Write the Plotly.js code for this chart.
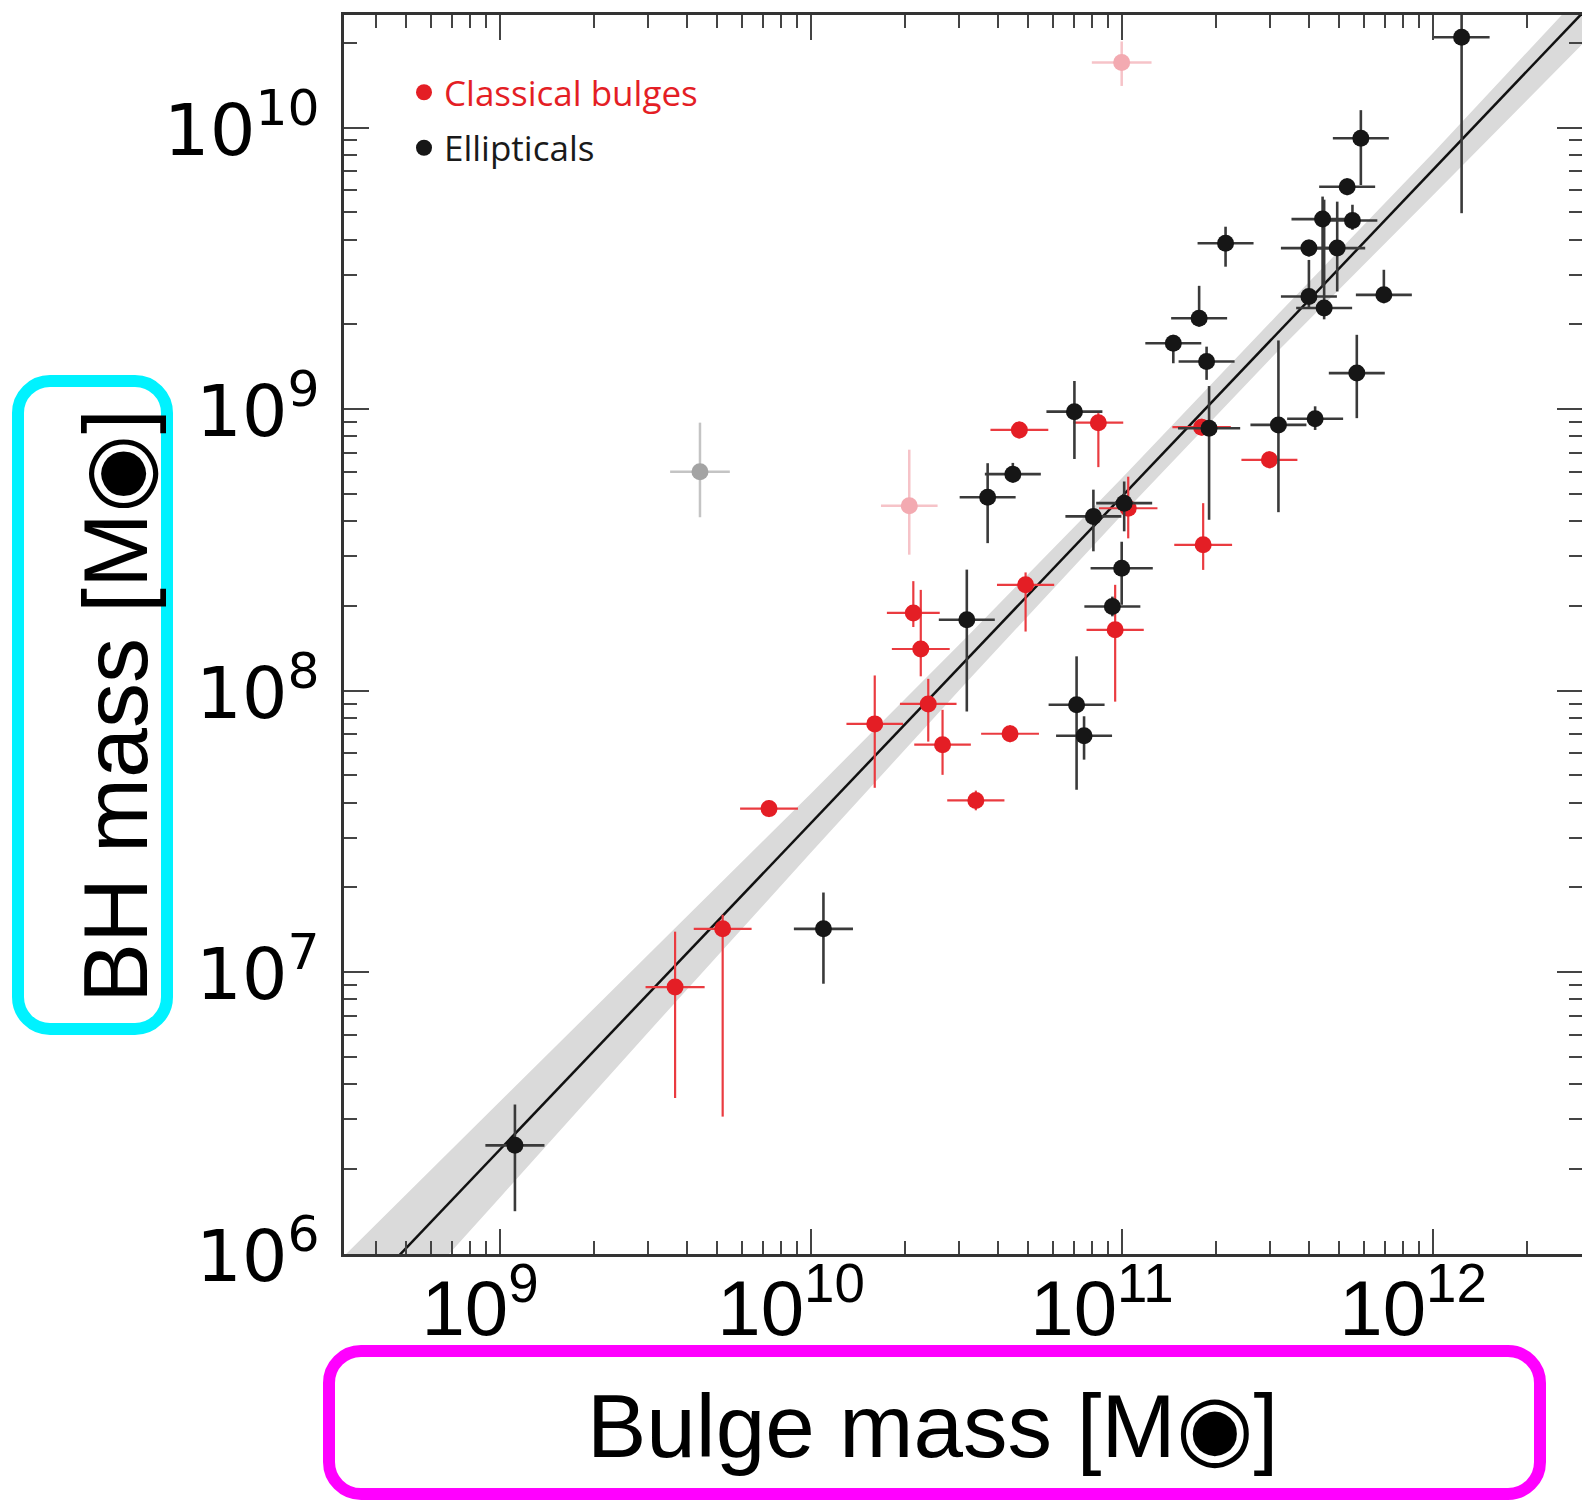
<!DOCTYPE html>
<html><head><meta charset="utf-8">
<script src="https://cdn.plot.ly/plotly-3.0.1.min.js"></script>
<style>html,body{margin:0;padding:0;background:#fff;overflow:hidden}#chart{width:1582px;height:1503px}</style>
</head><body><div id="chart"></div>
<script>
// ---------- data (log10 values) ----------
// Ellipticals
const ellLogMbul = [12.092, 11.768, 11.724, 11.645, 11.741, 11.333, 11.601, 11.692, 11.601, 11.650, 11.842, 11.248, 11.165, 11.272, 11.755, 10.847, 11.280, 11.503, 11.621, 10.649, 10.568, 10.908, 11.007, 10.999, 10.969, 10.501, 10.854, 10.878, 10.040, 9.048];
const ellLogMbh  = [10.321, 9.962, 9.790, 9.675, 9.670, 9.589, 9.572, 9.572, 9.400, 9.359, 9.406, 9.323, 9.234, 9.169, 9.128, 8.991, 8.932, 8.944, 8.966, 8.769, 8.687, 8.619, 8.666, 8.435, 8.299, 8.252, 7.950, 7.840, 7.154, 6.385];
const ellErrX    = [0.09, 0.09, 0.09, 0.10, 0.08, 0.09, 0.09, 0.09, 0.09, 0.09, 0.09, 0.09, 0.09, 0.09, 0.09, 0.09, 0.10, 0.09, 0.09, 0.09, 0.09, 0.09, 0.09, 0.10, 0.09, 0.09, 0.09, 0.09, 0.095, 0.095];
const ellErrYUp  = [0.10, 0.10, 0.03, 0.08, 0.056, 0.059, 0.03, 0.165, 0.13, 0.385, 0.089, 0.115, 0.03, 0.053, 0.136, 0.109, 0.15, 0.30, 0.044, 0.04, 0.121, 0.095, 0.077, 0.094, 0.035, 0.178, 0.172, 0.069, 0.129, 0.145];
const ellErrYDn  = [0.625, 0.166, 0.03, 0.24, 0.033, 0.083, 0.03, 0.154, 0.04, 0.04, 0.03, 0.03, 0.071, 0.065, 0.16, 0.168, 0.325, 0.31, 0.04, 0.03, 0.163, 0.124, 0.10, 0.13, 0.035, 0.326, 0.302, 0.085, 0.195, 0.234];

// Classical bulges
const clsLogMbul = [10.670, 10.924, 11.256, 11.474, 11.261, 11.020, 10.690, 10.329, 10.353, 10.978, 10.377, 10.423, 10.640, 10.530, 10.205, 9.865, 9.716, 9.563];
const clsLogMbh  = [8.926, 8.952, 8.936, 8.820, 8.518, 8.648, 8.376, 8.276, 8.148, 8.216, 7.953, 7.808, 7.847, 7.610, 7.882, 7.581, 7.154, 6.947];
const clsErrX    = [0.093, 0.08, 0.094, 0.09, 0.093, 0.094, 0.092, 0.085, 0.093, 0.092, 0.091, 0.091, 0.093, 0.092, 0.091, 0.093, 0.093, 0.095];
const clsErrYUp  = [0.03, 0.034, 0.03, 0.03, 0.148, 0.112, 0.044, 0.113, 0.21, 0.16, 0.089, 0.124, 0.03, 0.035, 0.172, 0.03, 0.05, 0.197];
const clsErrYDn  = [0.03, 0.158, 0.03, 0.03, 0.089, 0.107, 0.166, 0.05, 0.097, 0.255, 0.134, 0.107, 0.03, 0.035, 0.227, 0.03, 0.667, 0.394];

// Omitted classical bulges (pale red) and outlier (grey)
const omitLogMbul = [10.999, 10.316];
const omitLogMbh  = [10.231, 8.657];
const omitErrX    = [0.096, 0.091];
const omitErrYUp  = [0.075, 0.199];
const omitErrYDn  = [0.083, 0.174];
const grayLogMbul = [9.643];
const grayLogMbh  = [8.778];
const grayErrX    = [0.096];
const grayErrYUp  = [0.174];
const grayErrYDn  = [0.162];

// Fit line and its confidence band (log10)
const fitLogX  = [8.4, 12.6];
const fitLogY  = [5.674, 10.546];
const bandLogX = [8.4, 9.0, 9.5, 10.0, 10.5, 11.0, 11.5, 12.0, 12.6];
const bandHiY  = [5.884, 6.54, 7.085, 7.635, 8.19, 8.755, 9.335, 9.91, 10.62];
const bandLoY  = [5.464, 6.20, 6.815, 7.425, 8.03, 8.625, 9.205, 9.76, 10.43];

// Axis ticks
const xTickVals = [1e9, 1e10, 1e11, 1e12];
const xTickText = ['10<sup>9</sup>', '10<sup>10</sup>', '10<sup>11</sup>', '10<sup>12</sup>'];
const yTickVals = [1e6, 1e7, 1e8, 1e9, 1e10];
const yTickText = ['10<sup>6</sup>', '10<sup>7</sup>', '10<sup>8</sup>', '10<sup>9</sup>', '10<sup>10</sup>'];

// Titles / legend labels
const xTitle = 'Bulge mass [M◉]';
const yTitle = 'BH mass [M◉]';
const nameCls = 'Classical bulges';
const nameEll = 'Ellipticals';

// ---------- helpers ----------
const p10 = v => Math.pow(10, v);
function errs(logV, up, dn) {
  return {
    plus: logV.map((v, i) => p10(v) * (p10(up[i]) - 1)),
    minus: logV.map((v, i) => p10(v) * (1 - p10(-dn[i])))
  };
}
function ptsTrace(lx, ly, ex, eu, ed, mcol, ecol, ethick, name, show, group) {
  const xe = errs(lx, ex, ex), ye = errs(ly, eu, ed);
  return {
    type: 'scatter', mode: 'markers',
    x: lx.map(p10), y: ly.map(p10),
    name: name, showlegend: show, legendgroup: group,
    marker: {color: mcol, size: 17, line: {width: 0}},
    error_x: {type: 'data', symmetric: false, array: xe.plus, arrayminus: xe.minus, color: ecol, thickness: ethick, width: 0},
    error_y: {type: 'data', symmetric: false, array: ye.plus, arrayminus: ye.minus, color: ecol, thickness: ethick, width: 0},
    hoverinfo: 'skip'
  };
}

const W = 1582, H = 1503, ML = 344, MR = 0, MT = 15, MB = 249;
const PW = W - ML - MR, PH = H - MT - MB;
const px2x = v => (v - ML) / PW;
const px2y = v => (H - MB - v) / PH;
function rrect(x0, y0, x1, y1, r) {
  const k = 0.5523 * r;
  const X = px2x, Y = px2y;
  return 'M' + X(x0 + r) + ',' + Y(y0) +
    ' L' + X(x1 - r) + ',' + Y(y0) +
    ' C' + X(x1 - r + k) + ',' + Y(y0) + ' ' + X(x1) + ',' + Y(y0 + r - k) + ' ' + X(x1) + ',' + Y(y0 + r) +
    ' L' + X(x1) + ',' + Y(y1 - r) +
    ' C' + X(x1) + ',' + Y(y1 - r + k) + ' ' + X(x1 - r + k) + ',' + Y(y1) + ' ' + X(x1 - r) + ',' + Y(y1) +
    ' L' + X(x0 + r) + ',' + Y(y1) +
    ' C' + X(x0 + r - k) + ',' + Y(y1) + ' ' + X(x0) + ',' + Y(y1 - r + k) + ' ' + X(x0) + ',' + Y(y1 - r) +
    ' L' + X(x0) + ',' + Y(y0 + r) +
    ' C' + X(x0) + ',' + Y(y0 + r - k) + ' ' + X(x0 + r - k) + ',' + Y(y0) + ' ' + X(x0 + r) + ',' + Y(y0) + ' Z';
}

// minor tick positions (2..9 x decade)
function minorTicks(d0, d1) {
  const out = [];
  for (let d = d0; d <= d1; d++) for (let m = 2; m <= 9; m++) out.push(m * Math.pow(10, d));
  return out;
}

// ---------- traces ----------
const bandTrace = {
  type: 'scatter', mode: 'lines',
  x: bandLogX.concat(bandLogX.slice().reverse()).map(p10),
  y: bandHiY.concat(bandLoY.slice().reverse()).map(p10),
  fill: 'toself', fillcolor: '#dadada', line: {width: 0, color: 'rgba(0,0,0,0)'},
  showlegend: false, hoverinfo: 'skip'
};
const fitTrace = {
  type: 'scatter', mode: 'lines', x: fitLogX.map(p10), y: fitLogY.map(p10),
  line: {color: '#111111', width: 2.5}, showlegend: false, hoverinfo: 'skip'
};

const traces = [
  bandTrace, fitTrace,
  ptsTrace(grayLogMbul, grayLogMbh, grayErrX, grayErrYUp, grayErrYDn, '#a3a3a3', '#c4c4c4', 2.5, 'gray', false, 'g0'),
  ptsTrace(omitLogMbul, omitLogMbh, omitErrX, omitErrYUp, omitErrYDn, '#f3aab1', '#f6c3c8', 2.5, 'omit', false, 'g0'),
  ptsTrace(clsLogMbul, clsLogMbh, clsErrX, clsErrYUp, clsErrYDn, '#e41e25', '#ea3b40', 2.2,
    '<span style="color:#e41e25">' + nameCls + '</span>', true, 'g1'),
  ptsTrace(ellLogMbul, ellLogMbh, ellErrX, ellErrYUp, ellErrYDn, '#161616', '#3a3a3a', 2.6,
    '<span style="color:#1a1a1a">' + nameEll + '</span>', true, 'g2')
];

const axisCommon = {
  type: 'log', showgrid: false, zeroline: false,
  showline: true, linecolor: '#333', linewidth: 3, mirror: 'ticks',
  ticks: 'inside', ticklen: 25, tickwidth: 2, tickcolor: '#444',
  tickmode: 'array'
};

const layout = {
  width: W, height: H,
  margin: {l: ML, r: MR, t: MT, b: MB, pad: 0},
  paper_bgcolor: '#ffffff', plot_bgcolor: '#ffffff',
  showlegend: true,
  xaxis: Object.assign({}, axisCommon, {
    range: [8.4984, 12.4791],
    tickvals: xTickVals, ticktext: xTickText,
    tickfont: {family: '"Liberation Sans", Arial, sans-serif', size: 78, color: '#000'},
    ticklabelshift: -20, ticklabelstandoff: -16,
    minor: {tickmode: 'array', tickvals: minorTicks(8, 12), ticks: 'inside', ticklen: 13, tickwidth: 2, tickcolor: '#444', showgrid: false}
  }),
  yaxis: Object.assign({}, axisCommon, {
    range: [5.999, 10.4],
    tickvals: yTickVals, ticktext: yTickText,
    tickfont: {family: '"DejaVu Sans", sans-serif', size: 72, color: '#000'},
    ticklabelshift: 2, ticklabelstandoff: 7,
    minor: {tickmode: 'array', tickvals: minorTicks(6, 10), ticks: 'inside', ticklen: 13, tickwidth: 2, tickcolor: '#444', showgrid: false}
  }),
  legend: {
    x: px2x(404), y: px2y(63), xanchor: 'left', yanchor: 'top',
    bgcolor: 'rgba(0,0,0,0)', borderwidth: 0,
    font: {family: '"Open Sans", "Noto Sans", sans-serif', size: 35},
    traceorder: 'grouped', tracegroupgap: 7
  },
  annotations: [
    {xref: 'paper', yref: 'paper', x: px2x(932), y: px2y(1426), xanchor: 'center', yanchor: 'middle',
     text: xTitle, showarrow: false, font: {family: '"Liberation Sans", Arial, sans-serif', size: 89, color: '#000'}},
    {xref: 'paper', yref: 'paper', x: px2x(116), y: px2y(706), xanchor: 'center', yanchor: 'middle',
     text: yTitle, textangle: -90, showarrow: false, font: {family: '"Liberation Sans", Arial, sans-serif', size: 90, color: '#000'}}
  ],
  shapes: [
    {type: 'path', xref: 'paper', yref: 'paper', path: rrect(18, 381, 167, 1029, 32), line: {color: '#00f2ff', width: 12}, layer: 'above'},
    {type: 'path', xref: 'paper', yref: 'paper', path: rrect(329, 1351, 1540, 1494, 32), line: {color: '#ff00ff', width: 12}, layer: 'above'}
  ],
  hovermode: false
};

Plotly.newPlot('chart', traces, layout, {displayModeBar: false, staticPlot: true});
</script></body></html>
